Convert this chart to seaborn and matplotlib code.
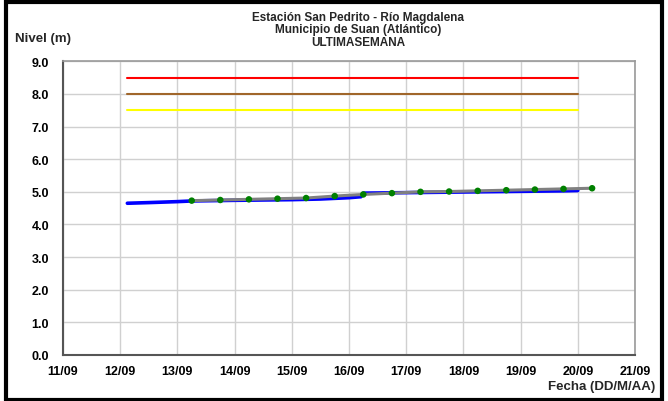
import numpy as np
import pandas as pd
import matplotlib
matplotlib.use('Agg')
import matplotlib.pyplot as plt
import matplotlib.dates as mdates
from matplotlib.patches import Rectangle
import seaborn as sns

# Observed level (blue, sensor series)
blue_times = ['2020-09-12 03:00', '2020-09-12 12:00', '2020-09-13 00:00', '2020-09-13 06:00',
              '2020-09-14 00:00', '2020-09-14 12:00', '2020-09-15 00:00', '2020-09-15 12:00',
              '2020-09-16 00:00', '2020-09-16 05:00', '2020-09-16 06:00', '2020-09-16 18:00',
              '2020-09-17 06:00', '2020-09-17 18:00', '2020-09-18 06:00', '2020-09-18 18:00',
              '2020-09-19 06:00', '2020-09-19 18:00', '2020-09-20 00:00']
blue_values = [4.65, 4.67, 4.70, 4.72, 4.74, 4.75, 4.76, 4.78, 4.82, 4.85,
               4.96, 4.97, 4.98, 4.99, 5.00, 5.01, 5.02, 5.03, 5.04]

# Manual readings (grey line, green dots), every 12 h
dot_times = ['2020-09-13 06:00', '2020-09-13 18:00', '2020-09-14 06:00', '2020-09-14 18:00',
             '2020-09-15 06:00', '2020-09-15 18:00', '2020-09-16 06:00', '2020-09-16 18:00',
             '2020-09-17 06:00', '2020-09-17 18:00', '2020-09-18 06:00', '2020-09-18 18:00',
             '2020-09-19 06:00', '2020-09-19 18:00', '2020-09-20 06:00']
dot_values = [4.73, 4.75, 4.77, 4.79, 4.81, 4.87, 4.92, 4.96, 5.00, 5.01,
              5.03, 5.05, 5.07, 5.09, 5.11]

# Alert thresholds
thr_span = ['2020-09-12 03:00', '2020-09-20 00:00']
thr_levels = [8.5, 8.0, 7.5]
thr_colors = ['#ff0000', '#a0662a', '#ffff00']

x_ticks = pd.date_range('2020-09-11', '2020-09-21', freq='D')
y_ticks = np.arange(0, 9.01, 1.0)

sns.set_style('white')
plt.rcParams['font.family'] = ['Liberation Sans', 'DejaVu Sans']
plt.rcParams['font.weight'] = 'bold'

fig = plt.figure(figsize=(6.68, 4.02), dpi=100)
ax = fig.add_axes([63 / 668, 46 / 402, 572 / 668, 293.7 / 402])

for lvl, col in zip(thr_levels, thr_colors):
    df_t = pd.DataFrame({'t': pd.to_datetime(thr_span), 'v': [lvl, lvl]})
    sns.lineplot(data=df_t, x='t', y='v', color=col, linewidth=1.5, ax=ax)

df_blue = pd.DataFrame({'t': pd.to_datetime(blue_times), 'v': blue_values})
sns.lineplot(data=df_blue, x='t', y='v', color='#0000ff', linewidth=2.6, ax=ax)

df_dots = pd.DataFrame({'t': pd.to_datetime(dot_times), 'v': dot_values})
sns.lineplot(data=df_dots, x='t', y='v', color='#808080', linewidth=2.2, ax=ax)
sns.scatterplot(data=df_dots, x='t', y='v', color='#008000', s=22, edgecolor='none', ax=ax, zorder=5)

ax.set_xlim(x_ticks[0], x_ticks[-1])
ax.set_ylim(0, 9)
ax.set_xticks(x_ticks)
ax.xaxis.set_major_formatter(mdates.DateFormatter('%d/%m'))
ax.set_yticks(y_ticks)
ax.set_yticklabels([f'{v:.1f}' for v in y_ticks])
ax.grid(True, color='#d0d0d0', linewidth=1.0)
ax.set_axisbelow(True)
ax.set_xlabel('')
ax.set_ylabel('')
ax.tick_params(axis='both', labelsize=9, direction='out', length=4, width=1, colors='#555555',
               labelcolor='black')
ax.tick_params(axis='y', pad=6)
ax.tick_params(axis='x', pad=3)
for lab in ax.get_xticklabels() + ax.get_yticklabels():
    lab.set_fontweight('bold')

for side in ['left', 'bottom']:
    ax.spines[side].set_color('#555555')
    ax.spines[side].set_linewidth(1.5)
for side in ['top', 'right']:
    ax.spines[side].set_color('#999999')
    ax.spines[side].set_linewidth(1.2)

fig.text(358 / 668, 1 - 18 / 402, 'Estación San Pedrito - Río Magdalena', ha='center', va='center',
         fontsize=8.5, fontweight='bold')
fig.text(358 / 668, 1 - 30 / 402, 'Municipio de Suan (Atlántico)', ha='center', va='center',
         fontsize=8.5, fontweight='bold')
fig.text(358 / 668, 1 - 42.5 / 402, 'ULTIMASEMANA', ha='center', va='center',
         fontsize=8.5, fontweight='bold')
fig.text(15 / 668, 1 - 39 / 402, 'Nivel (m)', ha='left', va='center', fontsize=9.5, fontweight='bold')
fig.text(655 / 668, 1 - 387 / 402, 'Fecha (DD/M/AA)', ha='right', va='center', fontsize=9.5,
         fontweight='bold')

fig.patches.append(Rectangle((6 / 668, 1.5 / 402), 656 / 668, 398 / 402, transform=fig.transFigure,
                             fill=False, edgecolor='black', linewidth=3))

fig.savefig('out.png', dpi=100)
